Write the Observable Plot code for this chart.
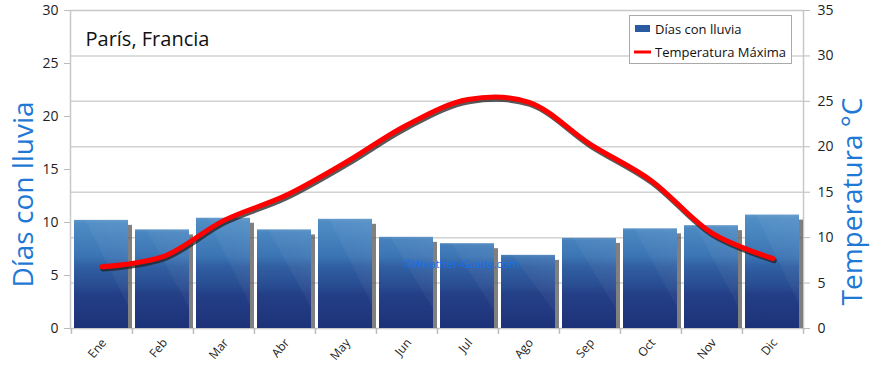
<!DOCTYPE html>
<html><head><meta charset="utf-8">
<script src="https://cdn.jsdelivr.net/npm/d3@7"></script>
<script src="https://cdn.jsdelivr.net/npm/@observablehq/plot@0.6"></script>
<style>
body{margin:0;background:#fff;}
#chart{position:relative;width:870px;height:365px;}
</style></head><body><div id="chart"></div>
<script>
const months = ["Ene","Feb","Mar","Abr","May","Jun","Jul","Ago","Sep","Oct","Nov","Dic"];
const rainDays = [10.2,9.3,10.4,9.3,10.3,8.6,8.0,6.9,8.5,9.4,9.7,10.7];
const maxTemp = [6.8,7.9,11.9,14.6,18.3,22.4,25.2,24.9,20.3,16.3,10.5,7.7];
const leftTicks = [0,5,10,15,20,25,30];
const rightTicks = [0,5,10,15,20,25,30,35];
const title = "París, Francia";
const leftLabel = "Días con lluvia";
const rightLabel = "Temperatura °C";
const legendLabels = ["Días con lluvia","Temperatura Máxima"];
const watermark = "©Weather-Guide.com";

const W = 870, H = 365, ML = 70, MR = 67, MT = 10, MB = 37;
const LMAX = 30, RMAX = 35;
const k = LMAX / RMAX;
const data = months.map((m, i) => ({month: m, rain: rainDays[i], t: maxTemp[i] * k}));
const bw = (W - ML - MR) / months.length;
const font = "'Open Sans', sans-serif";
const blue = "#1f78d6";

const plot = Plot.plot({
  width: W, height: H, marginLeft: ML, marginRight: MR, marginTop: MT, marginBottom: MB,
  style: {fontFamily: font, fontSize: "14px", color: "#222", background: "transparent", overflow: "visible"},
  x: {domain: months, padding: 0, align: 0.5},
  y: {domain: [0, LMAX]},
  marks: [
    Plot.ruleY(rightTicks.slice(1, -1), {y: d => d * k, stroke: "#d2d2d2", strokeWidth: 1.5}),
    Plot.frame({stroke: "#c8c8c8", strokeWidth: 1.5}),
    Plot.axisY(leftTicks, {anchor: "left", tickSize: 6, tickPadding: 6, stroke: "#bbb", fill: "#222", fontSize: 14, label: null}),
    Plot.axisY(rightTicks.map(t => t * k), {anchor: "right", tickFormat: d => Math.round(d / k), tickSize: 6, tickPadding: 8, stroke: "#bbb", fill: "#222", fontSize: 14, label: null}),
    Plot.axisX({tickSize: 0, tickRotate: -50, tickPadding: 12, dx: 2, fill: "#222", fontSize: 12, label: null}),
    Plot.ruleX(months, {x: d => d, dx: -bw / 2, y1: 0, y2: -0.55, stroke: "#bbb", strokeWidth: 1.5}),
    Plot.ruleX(months.slice(-1), {x: d => d, dx: bw / 2, y1: 0, y2: -0.55, stroke: "#bbb", strokeWidth: 1.5}),
    Plot.barY(data, {x: "month", y: "rain", fill: "#555", fillOpacity: 0.75, insetLeft: 3, insetRight: 4, insetTop: 5, dx: 4}),
    Plot.barY(data, {x: "month", y: "rain", fill: "url(#barGrad)", insetLeft: 3, insetRight: 4}),
    Plot.barY(data, {x: "month", y: "rain", fill: "url(#sheen)", insetLeft: 3, insetRight: 4}),
    Plot.barY(data, {x: "month", y: "rain", fill: "url(#sheen2)", insetLeft: 3, insetRight: 4}),
    Plot.text([watermark], {frameAnchor: "middle", dx: 24, dy: 95, fill: "#1670ee", fontSize: 11.5}),
    Plot.line(data, {x: "month", y: "t", curve: "catmull-rom", stroke: "#222", strokeOpacity: 0.75, strokeWidth: 5.5, dx: 1, dy: 2}),
    Plot.line(data, {x: "month", y: "t", curve: "catmull-rom", stroke: "#ff0000", strokeWidth: 5}),
    Plot.text([title], {frameAnchor: "top-left", dx: 15, dy: 21, fontSize: 20, textAnchor: "start", fill: "#111"}),
    Plot.text([leftLabel], {frameAnchor: "left", textAnchor: "middle", rotate: -90, dx: -46, dy: 25, fontSize: 28, fill: blue}),
    Plot.text([rightLabel], {frameAnchor: "right", textAnchor: "middle", rotate: -90, dx: 50, dy: 32, fontSize: 28, fill: blue})
  ]
});

const svg = d3.select(plot);
const defs = svg.insert("defs", ":first-child");
const g = defs.append("linearGradient").attr("id", "barGrad")
  .attr("gradientUnits", "userSpaceOnUse").attr("x1", 0).attr("x2", 0).attr("y1", H - MB).attr("y2", 205);
[[0, "#1d3278"], [0.28, "#213d86"], [0.34, "#25498f"], [0.5, "#2b5ba0"], [0.58, "#3570b1"], [0.8, "#4383bf"], [1, "#508fc7"]]
  .forEach(([o, c]) => g.append("stop").attr("offset", o).attr("stop-color", c));
const s = defs.append("linearGradient").attr("id", "sheen")
  .attr("x1", 0).attr("y1", 1).attr("x2", 1).attr("y2", 0);
[[0, "#fff", 0], [0.6, "#fff", 0], [0.61, "#fff", 0.04], [1, "#fff", 0.07]]
  .forEach(([o, c, a]) => s.append("stop").attr("offset", o).attr("stop-color", c).attr("stop-opacity", a));
const s2 = defs.append("linearGradient").attr("id", "sheen2").attr("x1", 0).attr("x2", 0).attr("y1", 0).attr("y2", 1);
[[0, "#fff", 0.12], [0.03, "#fff", 0.04], [1, "#fff", 0]]
  .forEach(([o, c, a]) => s2.append("stop").attr("offset", o).attr("stop-color", c).attr("stop-opacity", a));

// legend inside plot area
const lg = svg.append("g").attr("font-family", font).attr("font-size", 13).attr("fill", "#111").attr("text-anchor", "start");
lg.append("rect").attr("x", 629.5).attr("y", 15.5).attr("width", 162).attr("height", 48).attr("fill", "#fff").attr("stroke", "#aaa");
lg.append("rect").attr("x", 635).attr("y", 25).attr("width", 15).attr("height", 7).attr("fill", "#2a5aa0");
lg.append("line").attr("x1", 634).attr("x2", 651).attr("y1", 52).attr("y2", 52).attr("stroke", "#ff0000").attr("stroke-width", 3);
lg.append("text").attr("x", 655).attr("y", 29).attr("dy", "0.35em").attr("text-anchor", "start").text(legendLabels[0]);
lg.append("text").attr("x", 655).attr("y", 52).attr("dy", "0.35em").attr("text-anchor", "start").text(legendLabels[1]);

document.getElementById("chart").appendChild(plot);
</script></body></html>
